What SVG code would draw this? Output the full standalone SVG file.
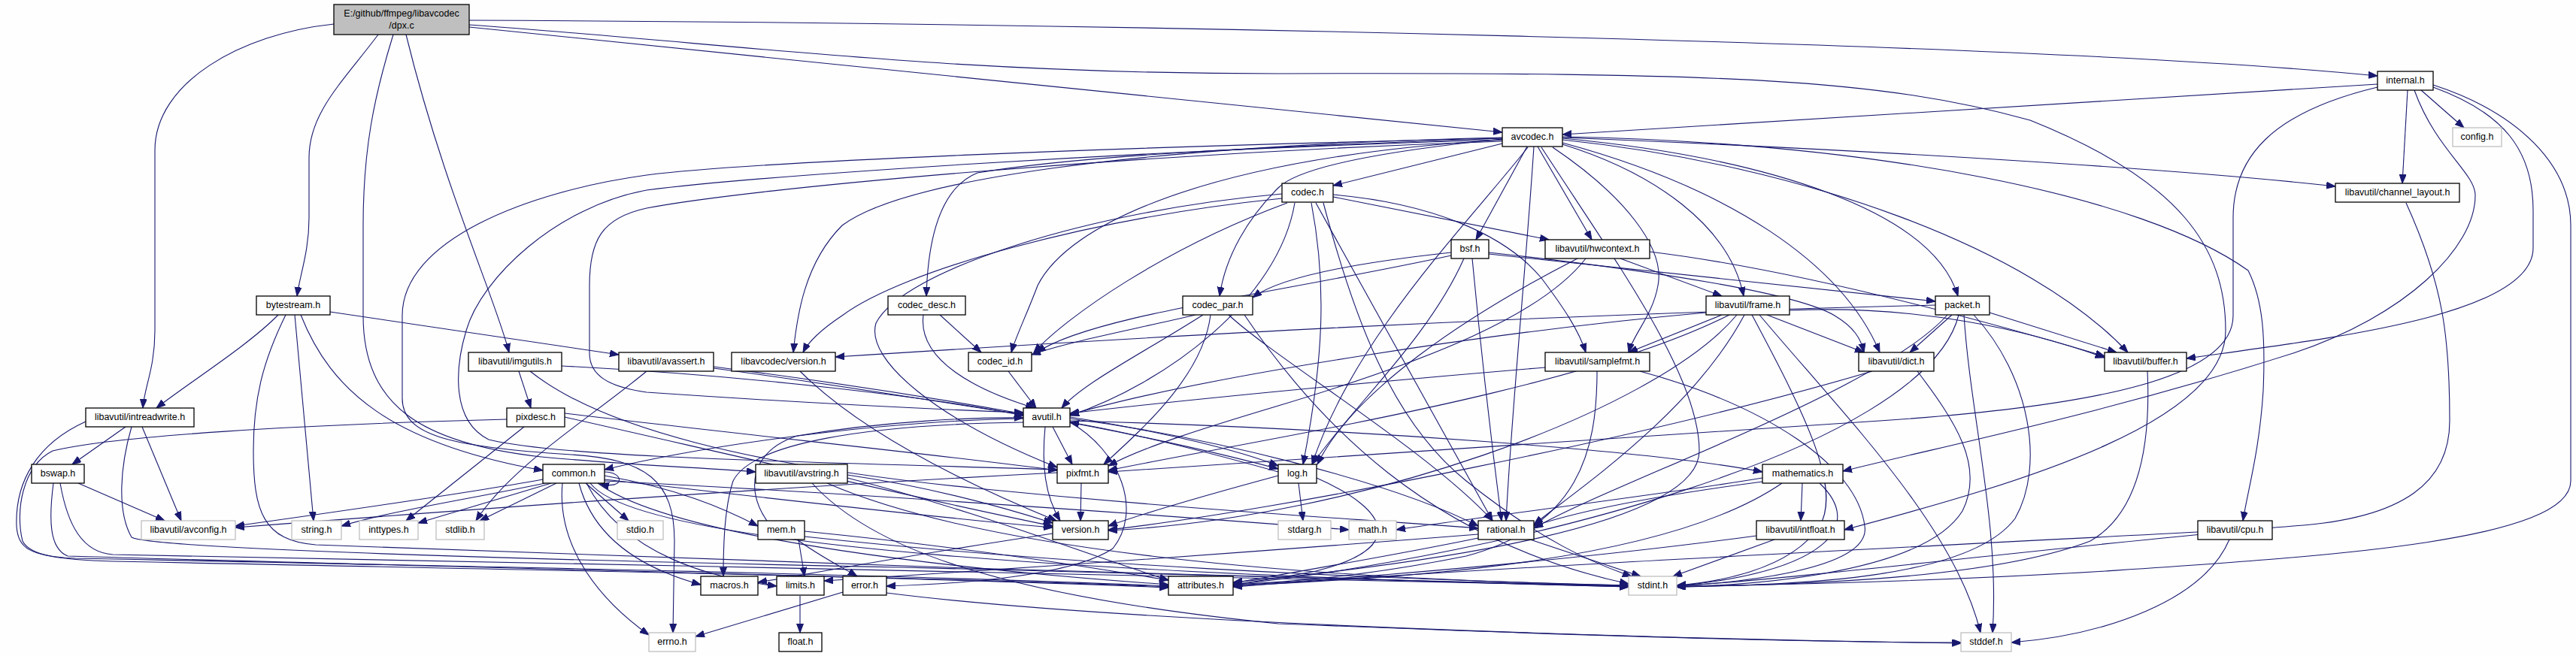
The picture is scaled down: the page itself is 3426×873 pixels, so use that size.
<svg xmlns="http://www.w3.org/2000/svg" width="3426" height="873" viewBox="0 0 3426 873">
<defs>
<marker id="ah" markerUnits="userSpaceOnUse" markerWidth="13" markerHeight="10" refX="12" refY="4.5" orient="auto">
<path d="M0,0 L12,4.5 L0,9 z" fill="#191970" stroke="#191970" stroke-width="1"/>
</marker>
<style>
.e{fill:none;stroke:#191970;stroke-width:1.1;marker-end:url(#ah)}
.b{fill:#fff;stroke:#000;stroke-width:1.3}
.g{fill:#fff;stroke:#bfbfbf;stroke-width:1.3}
.r{fill:#bfbfbf;stroke:#000;stroke-width:1.3}
text{font-family:"Liberation Sans",Arial,sans-serif;font-size:12.5px;fill:#000;text-anchor:middle}
</style>
</defs>
<rect width="3426" height="873" fill="#fdfefd"/>
<g id="edges">
<!-- dpx.c -->
<path class="e" d="M444,32 C320,45 206,110 206,200 L206,440 C206,490 192,515 190,543"/>
<path class="e" d="M503,46 C455,110 411,150 411,210 L411,290 C411,335 399,365 395,394"/>
<path class="e" d="M523,46 C497,130 483,200 483,300 L483,420 C483,540 560,590 720,608 C850,620 930,622 1005,628"/>
<path class="e" d="M540,46 C590,250 660,400 677,469"/>
<path class="e" d="M624,36 L1998,176"/>
<path class="e" d="M624,27 C1400,30 2700,55 3162,101"/>
<path class="e" d="M624,33 C1000,60 1250,98 1700,98 C2300,96 2500,105 2700,160 C2900,240 2960,330 2960,440 C2960,560 2700,640 2453,705"/>
<!-- internal.h -->
<path class="e" d="M3162,112 L2078,179"/>
<path class="e" d="M3220,120 L3277,170"/>
<path class="e" d="M3202,120 L3195,244"/>
<path class="e" d="M3236,116 C3330,150 3369,200 3369,280 L3369,330 C3369,420 3100,450 2908,477"/>
<path class="e" d="M3236,113 C3350,150 3419,220 3419,300 L3419,640 C3419,720 3100,740 2800,760 C2600,772 2400,778 2230,780"/>
<path class="e" d="M3211,120 C3240,200 3292,230 3292,260 C3292,330 3200,420 3050,470 C2800,550 2600,590 2451,627"/>
<path class="e" d="M3162,116 C3020,150 2970,210 2970,290 L2970,420 C2970,500 2800,540 2500,560 C2100,585 1700,610 1474,628"/>
<!-- avcodec.h -->
<path class="e" d="M1998,191 L1773,247"/>
<path class="e" d="M2031,195 L1963,319"/>
<path class="e" d="M2045,195 L2117,319"/>
<path class="e" d="M2078,192 C2200,230 2300,300 2319,394"/>
<path class="e" d="M2065,196 C2160,260 2215,330 2205,380 C2198,420 2172,445 2166,469"/>
<path class="e" d="M1998,185 C1850,200 1730,220 1700,250 C1660,290 1630,340 1622,394"/>
<path class="e" d="M1998,184 C1700,195 1450,205 1300,230 C1250,250 1234,320 1232,394"/>
<path class="e" d="M1998,186 C1600,210 1420,300 1380,380 C1365,420 1350,450 1345,469"/>
<path class="e" d="M1998,183 C1500,195 1200,240 1120,300 C1070,350 1060,420 1055,469"/>
<path class="e" d="M1998,188 C1500,205 1000,250 860,277 C800,290 784,320 784,380 L784,470 C784,500 810,515 860,522 C1050,535 1250,545 1361,549"/>
<path class="e" d="M2032,196 C1950,300 1800,450 1745,618"/>
<path class="e" d="M1998,186 C1500,200 1000,235 860,253 C740,275 640,370 620,440 C605,490 600,560 650,585 C750,610 1100,615 1406,625"/>
<path class="e" d="M2040,195 C2030,350 2010,550 2003,693"/>
<path class="e" d="M2078,190 C2300,250 2450,350 2500,469"/>
<path class="e" d="M2078,186 C2400,220 2700,330 2830,469"/>
<path class="e" d="M2078,184 C2350,210 2570,280 2604,394"/>
<path class="e" d="M2078,183 C2500,200 2900,225 3106,248"/>
<path class="e" d="M2050,196 C2150,350 2260,500 2260,600 C2260,700 1900,750 1640,775"/>
<path class="e" d="M2078,182 C2500,190 2850,260 2990,360 C3010,400 3013,450 3010,520 C3005,600 2990,650 2983,693"/>
<path class="e" d="M1998,184 C1500,195 1000,215 860,233 C700,255 535,320 535,420 L535,530 C535,580 600,595 760,605 C860,611 897,640 897,720 L895,842"/>
<!-- codec.h -->
<path class="e" d="M1773,262 L2060,319"/>
<path class="e" d="M1773,259 C1900,270 2000,310 2050,370 C2080,410 2100,440 2109,469"/>
<path class="e" d="M1760,270 C1800,420 1850,560 1950,640 C2050,720 2120,750 2170,767"/>
<path class="e" d="M1722,270 C1700,400 1550,510 1423,553"/>
<path class="e" d="M1744,270 C1765,380 1760,480 1733,618"/>
<path class="e" d="M1750,270 L1985,693"/>
<path class="e" d="M1705,264 C1450,290 1200,360 1120,420 C1090,440 1075,455 1068,469"/>
<path class="e" d="M1712,270 C1550,330 1420,420 1375,469"/>
<path class="e" d="M1705,258 C1450,280 1200,360 1165,430 C1150,480 1250,560 1406,622"/>
<!-- bsf.h -->
<path class="e" d="M1930,336 C1800,350 1700,370 1666,396"/>
<path class="e" d="M1930,340 C1700,390 1450,420 1379,469"/>
<path class="e" d="M1980,336 C2200,360 2390,390 2440,420 C2465,435 2475,450 2479,469"/>
<path class="e" d="M1980,338 L2574,401"/>
<path class="e" d="M1947,344 C1900,450 1800,540 1746,617"/>
<path class="e" d="M1958,344 C1968,450 1985,600 1997,693"/>
<!-- hwcontext -->
<path class="e" d="M2155,344 L2290,394"/>
<path class="e" d="M2194,335 C2400,360 2650,430 2799,474"/>
<path class="e" d="M2098,344 C1950,420 1800,520 1752,618"/>
<path class="e" d="M2109,344 C2050,420 1900,480 1700,540 C1600,570 1520,595 1474,620"/>
<!-- bytestream -->
<path class="e" d="M439,415 L823,472"/>
<path class="e" d="M370,419 C330,460 250,510 208,543"/>
<path class="e" d="M392,419 L417,693"/>
<path class="e" d="M400,419 C440,520 520,590 722,626"/>
<path class="e" d="M380,419 C350,480 337,530 337,600 C337,680 350,720 420,725 C900,745 1700,770 2166,781"/>
<!-- codec_desc -->
<path class="e" d="M1228,419 C1220,480 1300,520 1376,543"/>
<path class="e" d="M1250,419 L1305,469"/>
<!-- codec_par -->
<path class="e" d="M1590,419 C1500,440 1420,455 1372,472"/>
<path class="e" d="M1600,419 C1520,470 1440,510 1412,543"/>
<path class="e" d="M1610,419 C1600,500 1520,570 1468,618"/>
<path class="e" d="M1634,419 C1700,480 1900,600 1985,693"/>
<path class="e" d="M1655,419 C1750,560 1900,720 2166,777"/>
<!-- frame -->
<path class="e" d="M2290,419 L2166,469"/>
<path class="e" d="M2269,416 C2000,440 1600,500 1423,552"/>
<path class="e" d="M2300,419 C2100,520 1700,580 1474,626"/>
<path class="e" d="M2310,419 C2200,550 1800,690 1474,706"/>
<path class="e" d="M2320,419 C2250,550 2100,650 2040,698"/>
<path class="e" d="M2350,419 L2479,469"/>
<path class="e" d="M2380,413 C2550,405 2700,440 2799,476"/>
<path class="e" d="M2340,419 C2450,550 2600,700 2634,842"/>
<path class="e" d="M2330,419 C2400,550 2450,650 2420,700 C2380,760 2280,775 2230,779"/>
<!-- packet -->
<path class="e" d="M2574,406 C2000,420 1500,450 1111,475"/>
<path class="e" d="M2646,416 L2815,469"/>
<path class="e" d="M2596,419 L2540,469"/>
<path class="e" d="M2590,419 C2500,520 2150,640 2040,703"/>
<path class="e" d="M2605,419 C2560,600 2000,740 1640,778"/>
<path class="e" d="M2612,419 C2620,550 2660,700 2650,842"/>
<path class="e" d="M2625,419 C2700,500 2720,620 2680,690 C2620,770 2400,778 2230,781"/>
<!-- imgutils -->
<path class="e" d="M690,494 L706,543"/>
<path class="e" d="M747,487 C1000,500 1250,530 1361,553"/>
<path class="e" d="M705,494 C800,570 1000,620 1300,650 C1600,680 1800,690 1966,703"/>
<!-- avassert -->
<path class="e" d="M860,494 C780,560 680,620 633,693"/>
<path class="e" d="M949,490 C1100,510 1250,535 1361,552"/>
<path class="e" d="M949,488 C1200,520 1500,570 1700,624"/>
<!-- lavc version / codec_id -->
<path class="e" d="M1064,494 C1150,580 1300,650 1405,693"/>
<path class="e" d="M1341,494 L1378,543"/>
<!-- samplefmt -->
<path class="e" d="M2055,489 C1800,510 1550,535 1423,550"/>
<path class="e" d="M2124,494 C2124,600 2100,700 1950,740 C1800,770 1700,775 1640,778"/>
<path class="e" d="M2181,494 C2350,540 2470,620 2480,700 C2490,760 2300,776 2230,780"/>
<!-- dict -->
<path class="e" d="M2490,494 C2200,580 1700,680 1474,705"/>
<path class="e" d="M2550,494 C2600,560 2640,620 2610,680 C2560,760 2350,778 2230,781"/>
<!-- buffer -->
<path class="e" d="M2856,494 C2860,580 2850,680 2780,720 C2650,770 2400,778 2230,781"/>
<!-- intreadwrite -->
<path class="e" d="M167,568 L96,618"/>
<path class="e" d="M189,568 L241,693"/>
<path class="e" d="M175,568 C160,620 155,680 175,715 C200,730 700,745 1200,755 C1700,765 2000,775 2166,780"/>
<path class="e" d="M114,561 C50,590 20,640 22,700 C24,730 40,740 100,743 C700,755 1200,765 1554,780"/>
<!-- pixdesc -->
<path class="e" d="M697,568 L540,693"/>
<path class="e" d="M674,558 C400,565 150,580 70,600 C30,620 20,680 30,720 C40,740 80,745 150,747 C800,760 1300,770 1554,781"/>
<path class="e" d="M751,550 C1000,580 1250,605 1406,626"/>
<path class="e" d="M751,555 C950,600 1250,670 1400,700"/>
<!-- avutil -->
<path class="e" d="M1361,557 C1180,560 950,590 804,625"/>
<path class="e" d="M1423,562 C1490,600 1520,680 1480,730 C1420,770 1250,778 1179,780"/>
<path class="e" d="M1423,557 C1600,580 1850,640 1966,700"/>
<path class="e" d="M1390,568 C1385,620 1390,660 1410,693"/>
<path class="e" d="M1361,562 C1150,565 1000,590 975,640 C962,680 962,740 962,767"/>
<path class="e" d="M1423,560 C1800,570 2200,600 2344,628"/>
<path class="e" d="M1423,555 C1550,575 1650,600 1700,620"/>
<path class="e" d="M1400,568 L1426,618"/>
<!-- bswap -->
<path class="e" d="M104,643 L219,693"/>
<path class="e" d="M71,643 C65,690 65,730 90,740 C600,755 1300,770 1554,782"/>
<path class="e" d="M80,643 C90,700 110,735 150,738 C800,750 1700,770 2166,780"/>
<!-- common -->
<path class="e" d="M722,638 C600,660 420,685 313,700"/>
<path class="e" d="M725,643 C620,665 520,680 454,700"/>
<path class="e" d="M733,643 L556,696"/>
<path class="e" d="M740,643 L638,693"/>
<path class="e" d="M779,643 L836,693"/>
<path class="e" d="M804,633 C900,650 960,675 1008,700"/>
<path class="e" d="M770,643 C785,700 830,750 932,778"/>
<path class="e" d="M780,643 C830,740 950,770 1033,780"/>
<path class="e" d="M748,643 C740,730 800,800 863,845"/>
<path class="e" d="M804,638 C1000,660 1250,690 1400,702"/>
<path class="e" d="M795,643 C900,720 1300,760 1554,778"/>
<path class="e" d="M785,643 C850,730 1500,765 2166,781"/>
<path class="e" d="M804,640 C1200,660 1600,690 1794,705"/>
<path class="e" d="M804,628 C830,628 832,652 798,644"/>
<!-- avstring -->
<path class="e" d="M1080,643 C1150,720 1300,790 1700,830 C2200,850 2450,855 2608,855"/>
<path class="e" d="M1127,636 C1300,680 1450,740 1554,772"/>
<path class="e" d="M1100,643 C1300,730 1700,770 2166,779"/>
<path class="e" d="M1127,632 C1250,650 1350,680 1400,696"/>
<!-- pixfmt -->
<path class="e" d="M1438,643 L1437,693"/>
<path class="e" d="M1406,629 C1000,650 600,680 313,702"/>
<!-- log -->
<path class="e" d="M1727,643 L1733,693"/>
<path class="e" d="M1700,628 C1600,600 1500,575 1423,562"/>
<path class="e" d="M1751,636 C1850,680 1870,730 1750,760 C1700,770 1660,775 1640,778"/>
<path class="e" d="M1700,633 C1600,660 1530,680 1474,700"/>
<!-- mathematics -->
<path class="e" d="M2397,643 L2395,693"/>
<path class="e" d="M2344,636 C2200,660 1950,690 1857,705"/>
<path class="e" d="M2344,641 C2200,660 2100,680 2040,700"/>
<path class="e" d="M2370,643 C2200,760 1800,770 1640,780"/>
<path class="e" d="M2420,643 C2480,700 2430,760 2230,780"/>
<!-- version -->
<path class="e" d="M1400,710 C1200,740 1100,760 1008,775"/>
<!-- mem -->
<path class="e" d="M1062,718 L1070,767"/>
<path class="e" d="M1060,718 C1090,740 1120,755 1140,767"/>
<path class="e" d="M1070,707 C1300,730 1450,755 1554,772"/>
<path class="e" d="M1070,714 C1400,750 1800,770 2166,779"/>
<path class="e" d="M1020,693 C990,650 1000,600 1060,580 C1180,560 1300,555 1361,556"/>
<!-- error -->
<path class="e" d="M1121,788 L925,847"/>
<path class="e" d="M1179,789 C1500,830 2200,850 2608,856"/>
<!-- rational -->
<path class="e" d="M2035,718 L2182,767"/>
<path class="e" d="M1966,711 C1600,740 1300,760 1096,773"/>
<path class="e" d="M1966,716 C1850,740 1700,765 1640,776"/>
<!-- intfloat -->
<path class="e" d="M2360,718 L2225,767"/>
<path class="e" d="M2336,713 C2100,745 1800,770 1640,779"/>
<!-- cpu -->
<path class="e" d="M2965,718 C2930,800 2800,845 2675,855"/>
<path class="e" d="M2923,708 C2500,730 1900,760 1640,781"/>
<!-- channel_layout -->
<path class="e" d="M3200,270 C3250,380 3258,450 3258,560 C3258,640 3200,690 3050,700 C2800,720 2400,770 2230,780"/>
<!-- limits -->
<path class="e" d="M1064,793 L1064,842"/>
</g>
<g id="n_dpx_c"><rect class="r" x="444" y="6" width="180" height="40"/><text x="534" y="22">E:/github/ffmpeg/libavcodec</text><text x="534" y="38">/dpx.c</text></g>
<g id="n_internal_h"><rect class="b" x="3162" y="95" width="74" height="25"/><text x="3199" y="111">internal.h</text></g>
<g id="n_avcodec_h"><rect class="b" x="1998" y="170" width="80" height="25"/><text x="2038" y="186">avcodec.h</text></g>
<g id="n_config_h"><rect class="g" x="3262" y="170" width="65" height="25"/><text x="3294.5" y="186">config.h</text></g>
<g id="n_channel_layout_h"><rect class="b" x="3106" y="244" width="165" height="25"/><text x="3188.5" y="260">libavutil/channel_layout.h</text></g>
<g id="n_codec_h"><rect class="b" x="1705" y="244" width="68" height="25"/><text x="1739" y="260">codec.h</text></g>
<g id="n_bsf_h"><rect class="b" x="1930" y="319" width="50" height="25"/><text x="1955" y="335">bsf.h</text></g>
<g id="n_hwcontext_h"><rect class="b" x="2055" y="319" width="139" height="25"/><text x="2124.5" y="335">libavutil/hwcontext.h</text></g>
<g id="n_bytestream_h"><rect class="b" x="341" y="394" width="98" height="25"/><text x="390" y="410">bytestream.h</text></g>
<g id="n_codec_desc_h"><rect class="b" x="1181" y="394" width="103" height="25"/><text x="1232.5" y="410">codec_desc.h</text></g>
<g id="n_codec_par_h"><rect class="b" x="1573" y="394" width="93" height="25"/><text x="1619.5" y="410">codec_par.h</text></g>
<g id="n_frame_h"><rect class="b" x="2269" y="394" width="111" height="25"/><text x="2324.5" y="410">libavutil/frame.h</text></g>
<g id="n_packet_h"><rect class="b" x="2574" y="394" width="72" height="25"/><text x="2610" y="410">packet.h</text></g>
<g id="n_imgutils_h"><rect class="b" x="623" y="469" width="124" height="25"/><text x="685" y="485">libavutil/imgutils.h</text></g>
<g id="n_avassert_h"><rect class="b" x="823" y="469" width="126" height="25"/><text x="886" y="485">libavutil/avassert.h</text></g>
<g id="n_lavc_version_h"><rect class="b" x="973" y="469" width="138" height="25"/><text x="1042" y="485">libavcodec/version.h</text></g>
<g id="n_codec_id_h"><rect class="b" x="1288" y="469" width="84" height="25"/><text x="1330" y="485">codec_id.h</text></g>
<g id="n_samplefmt_h"><rect class="b" x="2055" y="469" width="139" height="25"/><text x="2124.5" y="485">libavutil/samplefmt.h</text></g>
<g id="n_dict_h"><rect class="b" x="2472" y="469" width="100" height="25"/><text x="2522" y="485">libavutil/dict.h</text></g>
<g id="n_buffer_h"><rect class="b" x="2799" y="469" width="109" height="25"/><text x="2853.5" y="485">libavutil/buffer.h</text></g>
<g id="n_intreadwrite_h"><rect class="b" x="114" y="543" width="144" height="25"/><text x="186" y="559">libavutil/intreadwrite.h</text></g>
<g id="n_pixdesc_h"><rect class="b" x="674" y="543" width="77" height="25"/><text x="712.5" y="559">pixdesc.h</text></g>
<g id="n_avutil_h"><rect class="b" x="1361" y="543" width="62" height="25"/><text x="1392" y="559">avutil.h</text></g>
<g id="n_bswap_h"><rect class="b" x="42" y="618" width="70" height="25"/><text x="77" y="634">bswap.h</text></g>
<g id="n_common_h"><rect class="b" x="722" y="618" width="82" height="25"/><text x="763" y="634">common.h</text></g>
<g id="n_avstring_h"><rect class="b" x="1005" y="618" width="122" height="25"/><text x="1066" y="634">libavutil/avstring.h</text></g>
<g id="n_pixfmt_h"><rect class="b" x="1406" y="618" width="68" height="25"/><text x="1440" y="634">pixfmt.h</text></g>
<g id="n_log_h"><rect class="b" x="1700" y="618" width="51" height="25"/><text x="1725.5" y="634">log.h</text></g>
<g id="n_mathematics_h"><rect class="b" x="2344" y="618" width="107" height="25"/><text x="2397.5" y="634">mathematics.h</text></g>
<g id="n_avconfig_h"><rect class="g" x="188" y="693" width="125" height="25"/><text x="250.5" y="709">libavutil/avconfig.h</text></g>
<g id="n_string_h"><rect class="g" x="388" y="693" width="66" height="25"/><text x="421" y="709">string.h</text></g>
<g id="n_inttypes_h"><rect class="g" x="478" y="693" width="78" height="25"/><text x="517" y="709">inttypes.h</text></g>
<g id="n_stdlib_h"><rect class="g" x="580" y="693" width="64" height="25"/><text x="612" y="709">stdlib.h</text></g>
<g id="n_stdio_h"><rect class="g" x="821" y="693" width="61" height="25"/><text x="851.5" y="709">stdio.h</text></g>
<g id="n_mem_h"><rect class="b" x="1008" y="693" width="62" height="25"/><text x="1039" y="709">mem.h</text></g>
<g id="n_version_h"><rect class="b" x="1400" y="693" width="74" height="25"/><text x="1437" y="709">version.h</text></g>
<g id="n_stdarg_h"><rect class="g" x="1700" y="693" width="70" height="25"/><text x="1735" y="709">stdarg.h</text></g>
<g id="n_math_h"><rect class="g" x="1794" y="693" width="63" height="25"/><text x="1825.5" y="709">math.h</text></g>
<g id="n_rational_h"><rect class="b" x="1966" y="693" width="74" height="25"/><text x="2003" y="709">rational.h</text></g>
<g id="n_intfloat_h"><rect class="b" x="2336" y="693" width="117" height="25"/><text x="2394.5" y="709">libavutil/intfloat.h</text></g>
<g id="n_cpu_h"><rect class="b" x="2923" y="693" width="99" height="25"/><text x="2972.5" y="709">libavutil/cpu.h</text></g>
<g id="n_macros_h"><rect class="b" x="932" y="767" width="76" height="25"/><text x="970" y="783">macros.h</text></g>
<g id="n_limits_h"><rect class="b" x="1033" y="767" width="63" height="25"/><text x="1064.5" y="783">limits.h</text></g>
<g id="n_error_h"><rect class="b" x="1121" y="767" width="58" height="25"/><text x="1150" y="783">error.h</text></g>
<g id="n_attributes_h"><rect class="b" x="1554" y="767" width="86" height="25"/><text x="1597" y="783">attributes.h</text></g>
<g id="n_stdint_h"><rect class="g" x="2166" y="767" width="64" height="25"/><text x="2198" y="783">stdint.h</text></g>
<g id="n_errno_h"><rect class="g" x="863" y="842" width="62" height="25"/><text x="894" y="858">errno.h</text></g>
<g id="n_float_h"><rect class="b" x="1036" y="842" width="57" height="25"/><text x="1064.5" y="858">float.h</text></g>
<g id="n_stddef_h"><rect class="g" x="2608" y="842" width="67" height="25"/><text x="2641.5" y="858">stddef.h</text></g>
</svg>
